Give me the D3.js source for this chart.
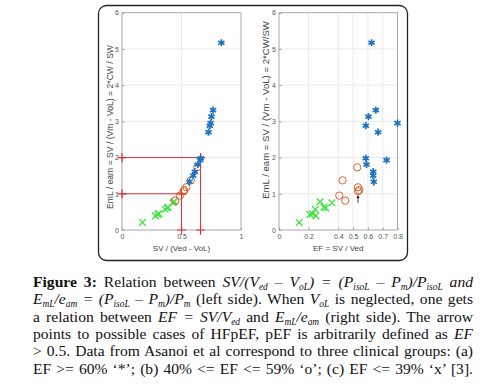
<!DOCTYPE html>
<html>
<head>
<meta charset="utf-8">
<script src="https://cdn.jsdelivr.net/npm/d3@7"></script>
<style>
  body { margin: 0; background: #fff; }
  #wrap { position: relative; width: 484px; height: 391px; overflow: hidden; }
  svg { position: absolute; left: 0; top: 0; }
  #caption { position: absolute; left: 33px; top: 273px; width: 440px;
    font-family: "Liberation Serif", "Times New Roman", serif; font-size: 15.6px; color: #111; }
  #caption .ln { text-align: justify; text-align-last: justify; height: 17.35px; line-height: 17.35px; white-space: nowrap; }
  #caption sub { font-size: 0.6em; vertical-align: -0.3em; line-height: 0; }
  .tick text { font-family: "Liberation Sans", Arial, sans-serif; font-size: 7px; fill: #555; }
</style>
</head>
<body>
<div id="wrap"></div>
<script>
// values
const yTicks = [0, 1, 2, 3, 4, 5, 6]
const leftXTicks = [0, 0.5, 1]
const rightXTicks = [0, 0.2, 0.4, 0.5, 0.6, 0.7, 0.8]

// group (a) EF >= 60%  '*'
const blueE  = [5.17, 3.31, 3.13, 2.95, 2.88, 2.70, 1.98, 1.93, 1.81, 1.61, 1.50, 1.33]
const blueSV = [0.835, 0.765, 0.752, 0.745, 0.738, 0.727, 0.662, 0.658, 0.637, 0.612, 0.598, 0.567]
const blueEF = [0.625, 0.654, 0.604, 0.80, 0.586, 0.669, 0.586, 0.726, 0.591, 0.636, 0.636, 0.64]
// group (b) 40-59%  'o'
const orangeE  = [1.73, 1.37, 1.18, 1.10, 1.07, 0.95, 0.81]
const orangeSV = [0.632, 0.578, 0.541, 0.524, 0.517, 0.487, 0.447]
const orangeEF = [0.528, 0.429, 0.533, 0.542, 0.533, 0.407, 0.447]
// group (c) EF <= 39%  'x'
const greenE  = [0.21, 0.43, 0.45, 0.57, 0.39, 0.78, 0.63, 0.61, 0.75]
const greenSV = [0.172, 0.30, 0.31, 0.363, 0.281, 0.438, 0.387, 0.379, 0.429]
const greenEF = [0.137, 0.209, 0.225, 0.245, 0.249, 0.278, 0.303, 0.316, 0.357]

// red guide lines in left panel
const guideX = [0.5, 0.66]
const guideY = [1, 2]
// HFpEF arrow in right panel
const arrowEF = 0.533, arrowFrom = 0.75, arrowTo = 0.95

const W = 484, H = 391
const svg = d3.select("#wrap").append("svg").attr("width", W).attr("height", H)

// outer rounded frame
svg.append("rect")
  .attr("x", 98.5).attr("y", 5.5).attr("width", 309).attr("height", 255)
  .attr("rx", 8).attr("fill", "none").attr("stroke", "#222").attr("stroke-width", 1.3)

const y = d3.scaleLinear().domain([0, 6]).range([230, 12.7])
const xL = d3.scaleLinear().domain([0, 1]).range([122, 241])
const xR = d3.scaleLinear().domain([0, 0.8]).range([279, 397.5])

function panel(x, xTicks, xLabel, yLabel, yLabX, yLabY, yLabSize) {
  const g = svg.append("g")
  const [x0, x1] = x.range(), [y0, y1] = y.range()
  // grid
  g.selectAll(".gx").data(xTicks.slice(1, -1)).join("line")
    .attr("x1", d => x(d)).attr("x2", d => x(d)).attr("y1", y0).attr("y2", y1)
    .attr("stroke", "#e4e4e4").attr("stroke-width", 0.8)
  g.selectAll(".gy").data(yTicks.slice(1, -1)).join("line")
    .attr("x1", x0).attr("x2", x1).attr("y1", d => y(d)).attr("y2", d => y(d))
    .attr("stroke", "#e4e4e4").attr("stroke-width", 0.8)

  const ax = g.append("g").attr("transform", `translate(0,${y0})`)
    .call(d3.axisBottom(x).tickValues(xTicks).tickFormat(d3.format("~g")).tickSizeInner(-2.5).tickSizeOuter(0).tickPadding(4))
  const ay = g.append("g").attr("transform", `translate(${x0},0)`)
    .call(d3.axisLeft(y).tickValues(yTicks).tickFormat(d3.format("d")).tickSizeInner(-2.5).tickSizeOuter(0).tickPadding(3))
  ax.select(".domain").remove(); ay.select(".domain").remove()
  g.selectAll(".tick line").attr("stroke", "#999")

  g.append("rect").attr("x", x0).attr("y", y1).attr("width", x1 - x0).attr("height", y0 - y1)
    .attr("fill", "none").attr("stroke", "#a8a8a8").attr("stroke-width", 1)

  g.append("text").attr("x", (x0 + x1) / 2).attr("y", 251).attr("text-anchor", "middle")
    .attr("font-family", "Liberation Sans, Arial, sans-serif").attr("font-size", 8).attr("fill", "#444")
    .text(xLabel)
  g.append("text").attr("transform", `translate(${yLabX},${yLabY}) rotate(-90)`)
    .attr("text-anchor", "middle")
    .attr("font-family", "Liberation Sans, Arial, sans-serif").attr("font-size", yLabSize).attr("fill", "#444")
    .text(yLabel)
  return g
}

function markers(g, x, xs, ys, type, color, size, sw) {
  const sym = d3.symbol().type(type).size(size)
  g.selectAll(null).data(xs.map((d, i) => [d, ys[i]])).join("path")
    .attr("d", sym)
    .attr("transform", d => `translate(${x(d[0])},${y(d[1])})`)
    .attr("fill", "none").attr("stroke", color).attr("stroke-width", sw)
}

// left panel
const gL = panel(xL, leftXTicks, "SV / (Ved - VoL)", "EmL / eam = SV / (Vm - VoL) = 2*CW / SW", 113, 127, 8.6)
const red = "#e0303a"
guideX.forEach((gx, i) => {
  const gy = guideY[i]
  gL.append("line").attr("x1", xL(0)).attr("x2", xL(gx)).attr("y1", y(gy)).attr("y2", y(gy))
    .attr("stroke", red).attr("stroke-width", 1)
  gL.append("line").attr("x1", xL(gx)).attr("x2", xL(gx)).attr("y1", y(0)).attr("y2", y(gy))
    .attr("stroke", red).attr("stroke-width", 1)
  markers(gL, xL, [0, gx, gx], [gy, 0, gy], d3.symbolPlus, red, 30, 1.2)
})
markers(gL, xL, greenSV, greenE, d3.symbolTimes, "#3be43b", 30, 1.3)
markers(gL, xL, orangeSV, orangeE, d3.symbolCircle, "#d95319", 42, 0.9)
markers(gL, xL, blueSV, blueE, d3.symbolAsterisk, "#1f72bd", 36, 1.7)

// right panel
const gR = panel(xR, rightXTicks, "EF = SV / Ved", "EmL / eam = SV / (Vm - VoL) = 2*CW/SW", 269, 110, 9.6)
markers(gR, xR, greenEF, greenE, d3.symbolTimes, "#3be43b", 30, 1.3)
markers(gR, xR, orangeEF, orangeE, d3.symbolCircle, "#d95319", 42, 0.9)
markers(gR, xR, blueEF, blueE, d3.symbolAsterisk, "#1f72bd", 36, 1.7)

// arrow pointing at possible HFpEF cases
gR.append("line").attr("x1", xR(arrowEF)).attr("x2", xR(arrowEF))
  .attr("y1", y(arrowFrom)).attr("y2", y(arrowTo)).attr("stroke", "#111").attr("stroke-width", 0.8)
gR.append("path")
  .attr("d", `M${xR(arrowEF) - 1.6},${y(arrowTo) + 2.5}L${xR(arrowEF)},${y(arrowTo)}L${xR(arrowEF) + 1.6},${y(arrowTo) + 2.5}Z`)
  .attr("fill", "#111")

// caption
const lines = [
  "<b>Figure 3:</b> Relation between <i>SV/(V<sub>ed</sub> – V<sub>oL</sub>) = (P<sub>isoL</sub> – P<sub>m</sub>)/P<sub>isoL</sub> and</i>",
  "<i>E<sub>mL</sub>/e<sub>am</sub> = (P<sub>isoL</sub> – P<sub>m</sub>)/P<sub>m</sub></i> (left side). When <i>V<sub>oL</sub></i> is neglected, one gets",
  "a relation between <i>EF = SV/V<sub>ed</sub></i> and <i>E<sub>mL</sub>/e<sub>am</sub></i> (right side). The arrow",
  "points to possible cases of HFpEF, pEF is arbitrarily defined as <i>EF</i>",
  "&gt; 0.5. Data from Asanoi et al correspond to three clinical groups: (a)",
  "EF &gt;= 60% ‘*’; (b) 40% &lt;= EF &lt;= 59% ‘o’; (c) EF &lt;= 39% ‘x’ [3]."
]
d3.select("#wrap").append("div").attr("id", "caption")
  .selectAll("div").data(lines).join("div").attr("class", "ln").html(d => d)
</script>
</body>
</html>
